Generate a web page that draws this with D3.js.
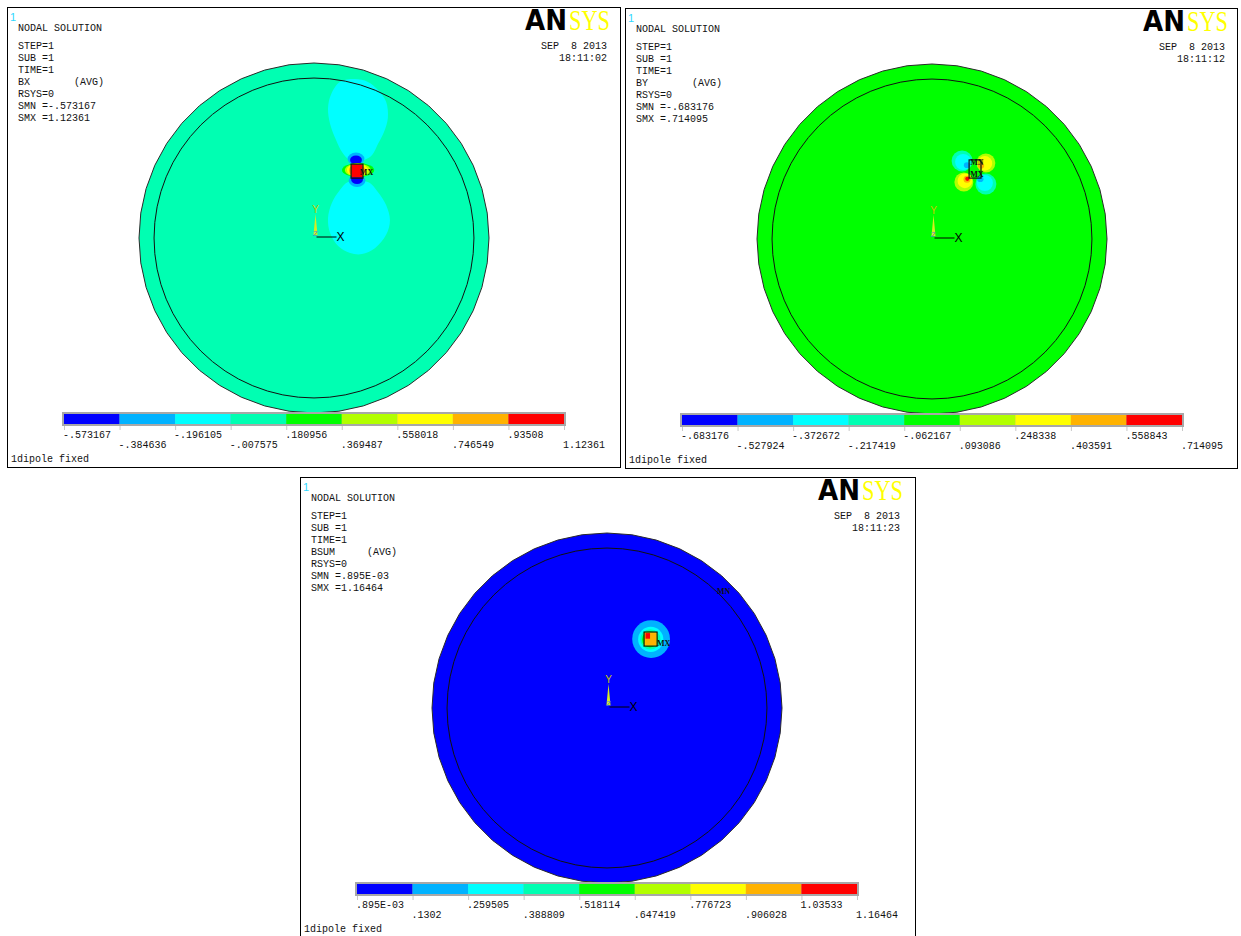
<!DOCTYPE html>
<html>
<head>
<meta charset="utf-8">
<script src="https://cdn.jsdelivr.net/npm/d3@7"></script>
<style>
  html, body { margin: 0; padding: 0; background: #fff; }
  svg { display: block; }
  .mono { font-family: "Liberation Mono", "DejaVu Sans Mono", monospace; font-size: 10px; fill: #111; white-space: pre; }
</style>
</head>
<body>
<svg id="chart" width="1241" height="936"></svg>
<script>
// ---- contour band colours (9-step spectrum, min -> max)
const bandColors = ["#0000ff", "#00b2ff", "#00ffff", "#00ffb2", "#00ff00",
                    "#b2ff00", "#ffff00", "#ffb200", "#ff0000"];

// ---- per-plot header values
const quantities = ["BX", "BY", "BSUM"];
const smnLabels  = ["-.573167", "-.683176", ".895E-03"];
const smxLabels  = ["1.12361", ".714095", "1.16464"];
const dates      = ["SEP  8 2013", "SEP  8 2013", "SEP  8 2013"];
const times      = ["18:11:02", "18:11:12", "18:11:23"];
const subtitle   = "1dipole fixed";

// ---- legend tick labels (contour levels)
const bxTicks   = ["-.573167", "-.384636", "-.196105", "-.007575", ".180956",
                   ".369487", ".558018", ".746549", ".93508", "1.12361"];
const byTicks   = ["-.683176", "-.527924", "-.372672", "-.217419", "-.062167",
                   ".093086", ".248338", ".403591", ".558843", ".714095"];
const bsumTicks = [".895E-03", ".1302", ".259505", ".388809", ".518114",
                   ".647419", ".776723", ".906028", "1.03533", "1.16464"];

// ---- model geometry (mm): air domain disc and inner boundary
const outerRadius = 50;
const innerRadius = 45.7;

// band that fills most of the domain in each plot
const backgroundBands = [3, 4, 0];

// ---- contour regions for each plot, model coordinates (mm)
const bxRegions = [
  { band: 2, type: "poly", pts: [[7.4,44.6],[11.7,45.4],[15.4,44.6],[18.3,42.3],[20.6,38.9],[21.1,34.3],
      [20.0,30.3],[18.3,26.9],[16.6,23.7],[14.3,22.3],[10.3,22.3],[8.0,24.6],[6.3,28.0],[4.6,32.6],
      [4.0,37.1],[4.9,41.1]] },
  { band: 2, type: "poly", pts: [[9.7,16.0],[15.4,16.0],[18.3,13.1],[20.6,9.4],[21.7,5.1],[20.6,0.9],
      [17.4,-2.9],[13.7,-4.6],[10.3,-4.3],[6.9,-2.3],[4.6,1.4],[4.0,5.7],[5.1,10.0],[7.4,13.7]] },
  { band: 1, type: "ellipse", c: [12.0, 22.6], r: [2.4, 1.8] },
  { band: 0, type: "ellipse", c: [12.0, 22.3], r: [1.7, 1.3] },
  { band: 1, type: "ellipse", c: [12.3, 16.4], r: [2.4, 1.8] },
  { band: 0, type: "ellipse", c: [12.3, 16.7], r: [1.7, 1.3] },
  { band: 4, type: "ellipse", c: [12.6, 19.4], r: [4.6, 2.0] },
  { band: 5, type: "ellipse", c: [12.5, 19.4], r: [3.7, 1.9] },
  { band: 6, type: "ellipse", c: [12.4, 19.4], r: [3.0, 1.9] },
  { band: 7, type: "ellipse", c: [12.3, 19.3], r: [2.3, 1.9] },
  { band: 8, type: "rect", p0: [10.7, 17.3], p1: [13.9, 21.0] }
];
const byRegions = [
  { band: 3, type: "ellipse", c: [8.6, 22.3], r: [3.0, 3.0] },
  { band: 2, type: "ellipse", c: [8.9, 22.0], r: [2.3, 2.3] },
  { band: 1, type: "ellipse", c: [10.0, 21.1], r: [0.9, 0.8] },
  { band: 5, type: "ellipse", c: [15.4, 21.7], r: [2.7, 2.7] },
  { band: 6, type: "ellipse", c: [15.1, 21.6], r: [2.1, 2.1] },
  { band: 7, type: "ellipse", c: [14.0, 20.9], r: [0.9, 0.8] },
  { band: 5, type: "ellipse", c: [9.1, 16.3], r: [2.7, 2.7] },
  { band: 6, type: "ellipse", c: [9.4, 16.6], r: [2.1, 2.1] },
  { band: 7, type: "ellipse", c: [10.0, 17.1], r: [1.0, 1.0] },
  { band: 8, type: "ellipse", c: [10.1, 17.2], r: [0.6, 0.6] },
  { band: 3, type: "ellipse", c: [15.4, 15.7], r: [3.0, 3.0] },
  { band: 2, type: "ellipse", c: [15.1, 16.0], r: [2.3, 2.3] },
  { band: 1, type: "ellipse", c: [13.8, 17.1], r: [0.9, 0.8] }
];
const bsumRegions = [
  { band: 1, type: "ellipse", c: [12.6, 19.7], r: [5.4, 5.4] },
  { band: 2, type: "ellipse", c: [12.5, 19.6], r: [3.6, 3.6] },
  { band: 3, type: "ellipse", c: [12.4, 19.6], r: [2.9, 2.9] },
  { band: 4, type: "ellipse", c: [12.3, 19.6], r: [2.3, 2.3] },
  { band: 6, type: "rect", p0: [10.6, 17.7], p1: [14.3, 21.7] },
  { band: 7, type: "rect", p0: [10.9, 18.0], p1: [14.0, 21.4] },
  { band: 8, type: "rect", p0: [11.0, 19.8], p1: [12.3, 21.4] }
];

// ---- dipole element box and extreme-value markers (mm)
const dipoleBoxes = [
  { p0: [10.6, 17.1], p1: [14.0, 21.1] },
  { p0: [10.6, 17.4], p1: [14.0, 22.6] },
  { p0: [10.6, 17.7], p1: [14.3, 21.7] }
];
const extremeMarks = [
  [{ label: "MX", at: [13.1, 17.9] }],
  [{ label: "MN", at: [10.9, 21.2] }, { label: "MX", at: [10.9, 17.7] }],
  [{ label: "MX", at: [14.3, 17.7] }, { label: "MN", at: [31.4, 32.6] }]
];

const tickSets = [bxTicks, byTicks, bsumTicks];
const regionSets = [bxRegions, byRegions, bsumRegions];

// ---- layout
const W = 1241, H = 936;
const frames = [
  { x: 7,   y: 7,   w: 613, h: 460 },
  { x: 625, y: 8,   w: 612, h: 460 },
  { x: 300, y: 477, w: 615, h: 460 }
];
const discCenter = [307, 231];
const discPixelRadius = 175;
const legendBox = { x: 55, y: 405, w: 504, h: 14 };

const svg = d3.select("#chart");
svg.append("rect").attr("width", W).attr("height", H).attr("fill", "#fff");

const lineClosed = d3.line().curve(d3.curveCatmullRomClosed.alpha(0.5));

frames.forEach((f, i) => {
  const g = svg.append("g").attr("transform", `translate(${f.x},${f.y})`);

  // frame
  g.append("rect").attr("x", 0.5).attr("y", 0.5).attr("width", f.w).attr("height", f.h)
    .attr("fill", "#fff").attr("stroke", "#000").attr("stroke-width", 1);

  // model -> screen scales
  const x = d3.scaleLinear().domain([-outerRadius, outerRadius])
    .range([discCenter[0] - discPixelRadius, discCenter[0] + discPixelRadius]);
  const y = d3.scaleLinear().domain([-outerRadius, outerRadius])
    .range([discCenter[1] + discPixelRadius, discCenter[1] - discPixelRadius]);
  const k = x(1) - x(0);

  const plot = g.append("g");

  // outer boundary, meshed as a polygon
  const nSides = 44;
  const outerPts = d3.range(nSides).map(j => {
    const a = (j / nSides) * 2 * Math.PI;
    return [x(outerRadius * Math.cos(a)), y(outerRadius * Math.sin(a))];
  });
  plot.append("path")
    .attr("d", d3.line().curve(d3.curveLinearClosed)(outerPts))
    .attr("fill", bandColors[backgroundBands[i]])
    .attr("stroke", "#2a2a2a").attr("stroke-width", 1);

  // contour regions
  regionSets[i].forEach(r => {
    const col = bandColors[r.band];
    if (r.type === "poly") {
      plot.append("path")
        .attr("d", lineClosed(r.pts.map(p => [x(p[0]), y(p[1])])))
        .attr("fill", col);
    } else if (r.type === "ellipse") {
      plot.append("ellipse")
        .attr("cx", x(r.c[0])).attr("cy", y(r.c[1]))
        .attr("rx", r.r[0] * k).attr("ry", r.r[1] * k)
        .attr("fill", col);
    } else {
      plot.append("rect")
        .attr("x", x(r.p0[0])).attr("y", y(r.p1[1]))
        .attr("width", x(r.p1[0]) - x(r.p0[0]))
        .attr("height", y(r.p0[1]) - y(r.p1[1]))
        .attr("fill", col);
    }
  });

  // inner boundary
  plot.append("circle")
    .attr("cx", x(0)).attr("cy", y(0)).attr("r", innerRadius * k)
    .attr("fill", "none").attr("stroke", "#111").attr("stroke-width", 1);

  // dipole element outline
  const b = dipoleBoxes[i];
  plot.append("rect")
    .attr("x", x(b.p0[0])).attr("y", y(b.p1[1]))
    .attr("width", x(b.p1[0]) - x(b.p0[0]))
    .attr("height", y(b.p0[1]) - y(b.p1[1]))
    .attr("fill", "none").attr("stroke", "#111").attr("stroke-width", 1.2);

  extremeMarks[i].forEach(m => {
    plot.append("text")
      .attr("x", x(m.at[0])).attr("y", y(m.at[1]))
      .style("font-family", "'Liberation Serif', serif")
      .style("font-size", "8px").style("font-weight", "bold")
      .attr("fill", "#111").text(m.label);
  });

  // global triad at the origin
  const ox = x(0) + 1.5, oy = y(0) - 1;
  g.append("path")
    .attr("d", `M${ox - 2},${oy - 2}L${ox + 2},${oy - 2}L${ox},${oy - 23}Z`)
    .attr("fill", "#d8ec20");
  g.append("line").attr("x1", ox + 1).attr("y1", oy).attr("x2", ox + 21).attr("y2", oy)
    .attr("stroke", "#000").attr("stroke-width", 1);
  g.append("text").attr("x", ox).attr("y", oy - 24).attr("text-anchor", "middle")
    .style("font-family", "'Liberation Sans', sans-serif").style("font-size", "10px")
    .attr("fill", "#c8c800").text("Y");
  g.append("text").attr("x", ox).attr("y", oy - 1).attr("text-anchor", "middle")
    .style("font-family", "'Liberation Sans', sans-serif").style("font-size", "8px")
    .attr("fill", "#5a8cc0").text("Z");
  g.append("text").attr("x", ox + 21).attr("y", oy + 4)
    .style("font-family", "'Liberation Sans', sans-serif").style("font-size", "12px")
    .attr("fill", "#000").text("X");

  // window number
  g.append("text").attr("x", 3).attr("y", 14)
    .style("font-family", "'Liberation Sans', sans-serif").style("font-size", "11px")
    .attr("fill", "#30d8ff").text("1");

  // header block
  const headerLines = ["STEP=1", "SUB =1", "TIME=1", quantities[i], "RSYS=0",
                       "SMN =" + smnLabels[i], "SMX =" + smxLabels[i]];
  g.append("text").attr("class", "mono").attr("x", 11).attr("y", 24).text("NODAL SOLUTION");
  headerLines.forEach((t, j) => {
    g.append("text").attr("class", "mono").attr("x", 11).attr("y", 41.5 + j * 12).text(t);
  });
  g.append("text").attr("class", "mono").attr("x", 67).attr("y", 41.5 + 3 * 12).text("(AVG)");

  // date / time
  g.append("text").attr("class", "mono").attr("x", 600).attr("y", 41.5)
    .attr("text-anchor", "end").text(dates[i]);
  g.append("text").attr("class", "mono").attr("x", 600).attr("y", 53.5)
    .attr("text-anchor", "end").text(times[i]);

  // logo
  g.append("text").attr("x", 518).attr("y", 23)
    .attr("textLength", 42).attr("lengthAdjust", "spacingAndGlyphs")
    .style("font-family", "'DejaVu Sans', sans-serif").style("font-weight", "bold")
    .style("font-size", "28px").attr("fill", "#000").text("AN");
  g.append("text").attr("x", 562).attr("y", 23)
    .attr("textLength", 41).attr("lengthAdjust", "spacingAndGlyphs")
    .style("font-family", "'Liberation Serif', serif")
    .style("font-size", "29px").attr("fill", "#ffff00").text("SYS");

  // legend
  const ticks = tickSets[i];
  const vals = ticks.map(t => +t);
  const lx = d3.scaleLinear().domain([vals[0], vals[vals.length - 1]])
    .range([legendBox.x + 2, legendBox.x + legendBox.w - 2]);
  const leg = g.append("g");
  leg.append("rect").attr("x", legendBox.x).attr("y", legendBox.y)
    .attr("width", legendBox.w).attr("height", legendBox.h).attr("fill", "#a8a8a8");
  d3.pairs(vals).forEach((p, j) => {
    leg.append("rect")
      .attr("x", lx(p[0])).attr("y", legendBox.y + 2)
      .attr("width", lx(p[1]) - lx(p[0])).attr("height", legendBox.h - 4)
      .attr("fill", bandColors[j]);
  });
  vals.forEach((v, j) => {
    leg.append("line")
      .attr("x1", lx(v) + 0.5).attr("x2", lx(v) + 0.5)
      .attr("y1", legendBox.y + legendBox.h).attr("y2", legendBox.y + legendBox.h + 4)
      .attr("stroke", "#c8c8c8");
    leg.append("text").attr("class", "mono")
      .attr("x", lx(v) - 1)
      .attr("y", legendBox.y + 26 + (j % 2) * 10)
      .text(ticks[j]);
  });

  g.append("text").attr("class", "mono").attr("x", 4).attr("y", 455).text(subtitle);
});
</script>
</body>
</html>
